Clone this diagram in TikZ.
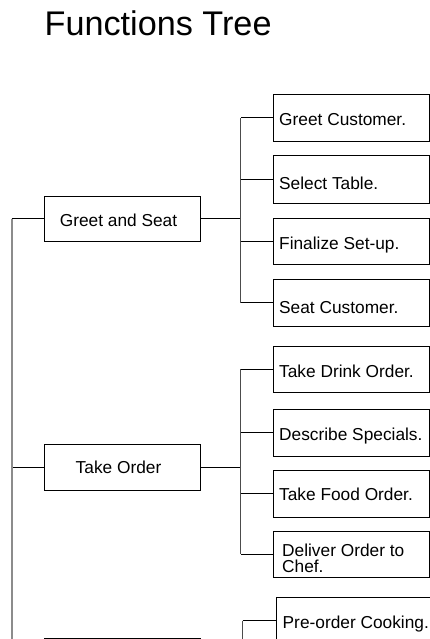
\documentclass[tikz,border=0pt]{standalone}
\usepackage{fontspec}
\setmainfont{Liberation Sans}
\begin{document}
\begin{tikzpicture}[x=1pt,y=-1pt,
  box/.style={draw=black, line width=0.9pt, minimum width=156pt, inner sep=0pt, anchor=north west},
  ctext/.style={anchor=base west, inner sep=0pt, font=\fontsize{17.3}{16.7}\selectfont},
  ptext/.style={anchor=base, inner sep=0pt, font=\fontsize{17.3}{20}\selectfont},
  hline/.style={draw=black, line width=1pt},
  vline/.style={draw=black!70, line width=1pt},
  trunk/.style={draw=black!45, line width=2pt}]
\useasboundingbox (0,0) rectangle (430,639);
\clip (0,0) rectangle (430,639);

\node[anchor=base west, inner sep=0pt, font=\fontsize{34.2}{40}\selectfont] (title) at (44.5,35.5) {Functions Tree};

% parent boxes
\node[box, minimum height=45pt] (p1) at (44,196) {};
\node[box, minimum height=46pt] (p2) at (44,444.3) {};
\node[box, minimum height=46pt] (p3) at (44,638.3) {};
\node[ptext] (tp1) at (118.5,226) {Greet and Seat};
\node[ptext] (tp2) at (118.5,473.3) {Take Order};

% child boxes
\node[box, minimum height=46.7pt] (c1) at (273,94) {};
\node[box, minimum height=48pt] (c2) at (273,155) {};
\node[box, minimum height=46pt] (c3) at (273,218) {};
\node[box, minimum height=47pt] (c4) at (273,279) {};
\node[box, minimum height=46pt] (c5) at (273,345.7) {};
\node[box, minimum height=47pt] (c6) at (273,409) {};
\node[box, minimum height=46.7pt] (c7) at (273,470) {};
\node[box, minimum height=46.3pt] (c8) at (273,530.7) {};
\node[box, minimum height=47pt, minimum width=160pt] (c9) at (275.7,596.7) {};

\node[ctext] (t1) at (279,126) {Greet Customer.};
\node[ctext] (t2) at (279,189.3) {Select Table.};
\node[ctext] (t3) at (279,249) {Finalize Set-up.};
\node[ctext] (t4) at (279,313.3) {Seat Customer.};
\node[ctext] (t5) at (279,377.3) {Take Drink Order.};
\node[ctext] (t6) at (279,440.7) {Describe Specials.};
\node[ctext] (t7) at (279,500.7) {Take Food Order.};
\node[ctext, align=left] (t8) at (282,572.7) {Deliver Order to\\Chef.};
\node[ctext] (t9) at (282.5,628.3) {Pre-order Cooking.};

% junctions
\path (p1.east) -- ++(40,0) coordinate (j1);
\path (p2.east) -- ++(40,0) coordinate (j2);
\path (p3.east) -- ++(41.7,0) coordinate (j3);
\coordinate (tr) at (11.5,0);

% trunk
\draw[hline] (p1.west -| tr) -- (p1.west);
\draw[hline] (p2.west -| tr) -- (p2.west);
\draw[hline] (p3.west -| tr) -- (p3.west);
\draw[trunk] (p1.west -| tr) -- (p3.west -| tr);

% group 1
\draw[hline] (p1.east) -- (j1);
\draw[vline] (j1 |- c1.west) -- (j1 |- c4.west);
\foreach \c in {c1,c2,c3,c4} \draw[hline] (j1 |- \c.west) -- (\c.west);
% group 2
\draw[hline] (p2.east) -- (j2);
\draw[vline] (j2 |- c5.west) -- (j2 |- c8.west);
\foreach \c in {c5,c6,c7,c8} \draw[hline] (j2 |- \c.west) -- (\c.west);
% group 3
\draw[hline] (p3.east) -- (j3);
\draw[vline] (j3 |- c9.west) -- (j3);
\draw[hline] (j3 |- c9.west) -- (c9.west);
\end{tikzpicture}
\end{document}
